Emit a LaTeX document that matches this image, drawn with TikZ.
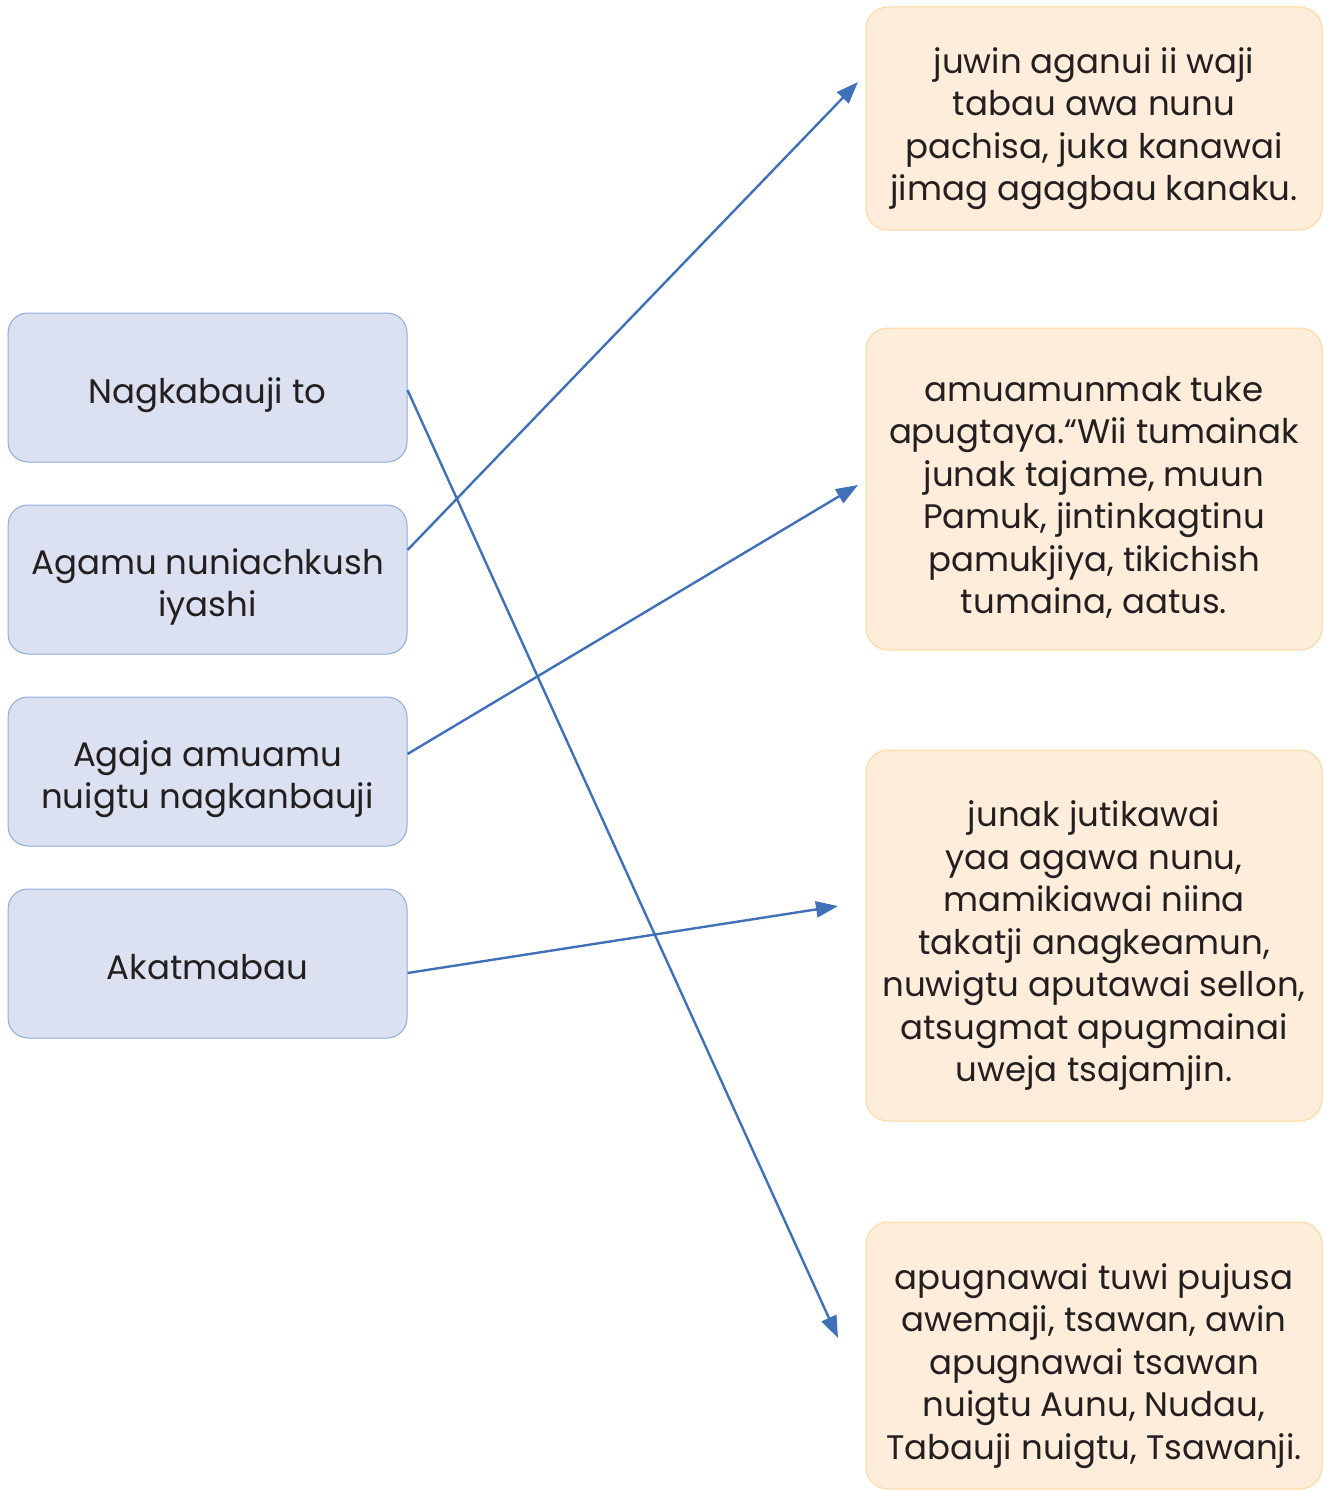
\documentclass[tikz,border=0pt]{standalone}
\usepackage{fontspec}
\setmainfont{Poppins}
\usetikzlibrary{arrows.meta}
\definecolor{lfill}{HTML}{DCE1F1}
\definecolor{ldraw}{HTML}{8FAADC}
\definecolor{rfill}{HTML}{FFEDDB}
\definecolor{rdraw}{HTML}{FFD89C}
\definecolor{arr}{HTML}{4071B8}
\definecolor{txt}{HTML}{231F20}
\newcommand{\lowertext}[2]{\raisebox{-#1}[\height][\depth]{\begin{tabular}{@{}c@{}}#2\end{tabular}}}
\tikzset{
  lbox/.style={draw=ldraw, fill=lfill, line width=1pt, rounded corners=20pt, minimum width=399pt, minimum height=149pt, text=txt, font=\fontsize{34}{42}\selectfont, inner sep=0pt},
  rbox/.style={draw=rdraw, fill=rfill, line width=1pt, rounded corners=22pt, minimum width=456pt, text=txt, font=\fontsize{34}{42.5}\selectfont, inner sep=0pt},
  link/.style={draw=arr, line width=2.4pt, -{Triangle[length=22pt,width=16pt]}}
}
\begin{document}
\begin{tikzpicture}[x=1pt,y=-1pt]
\useasboundingbox (0,0) rectangle (1323,1490);
\node[lbox] (b1) at (207.5,387.5) {\lowertext{8pt}{Nagkabauji to}};
\node[lbox] (b2) at (207.5,579.5) {\lowertext{8pt}{Agamu nuniachkush\\iyashi}};
\node[lbox] (b3) at (207.5,771.5) {\lowertext{8pt}{Agaja amuamu\\nuigtu nagkanbauji}};
\node[lbox] (b4) at (207.5,963.5) {\lowertext{8pt}{Akatmabau}};
\node[rbox, minimum height=223pt] (ra) at (1094,118.5) {\lowertext{10pt}{juwin aganui ii waji\\tabau awa nunu\\pachisa, juka kanawai\\jimag agagbau kanaku.}};
\node[rbox, minimum height=322pt] (rb) at (1094,489) {\lowertext{10pt}{amuamunmak tuke\\apugtaya.“Wii tumainak\\junak tajame, muun\\Pamuk, jintinkagtinu\\pamukjiya, tikichish\\tumaina, aatus.}};
\node[rbox, minimum height=371pt] (rc) at (1094,935.5) {\lowertext{10pt}{junak jutikawai\\yaa agawa nunu,\\mamikiawai niina\\takatji anagkeamun,\\nuwigtu aputawai sellon,\\atsugmat apugmainai\\uweja tsajamjin.}};
\node[rbox, minimum height=267pt] (rd) at (1094,1355.5) {\lowertext{10pt}{apugnawai tuwi pujusa\\awemaji, tsawan, awin\\apugnawai tsawan\\nuigtu Aunu, Nudau,\\Tabauji nuigtu, Tsawanji.}};
\coordinate (t1) at (838,1338);
\coordinate (t2) at (858,82);
\coordinate (t3) at (858,485);
\coordinate (t4) at (838,906);
\draw[link] ([yshift=-2.5pt]b1.east) -- (t1);
\draw[link] ([yshift=29.5pt]b2.east) -- (t2);
\draw[link] ([yshift=17.5pt]b3.east) -- (t3);
\draw[link] ([yshift=-9.5pt]b4.east) -- (t4);
\end{tikzpicture}
\end{document}
